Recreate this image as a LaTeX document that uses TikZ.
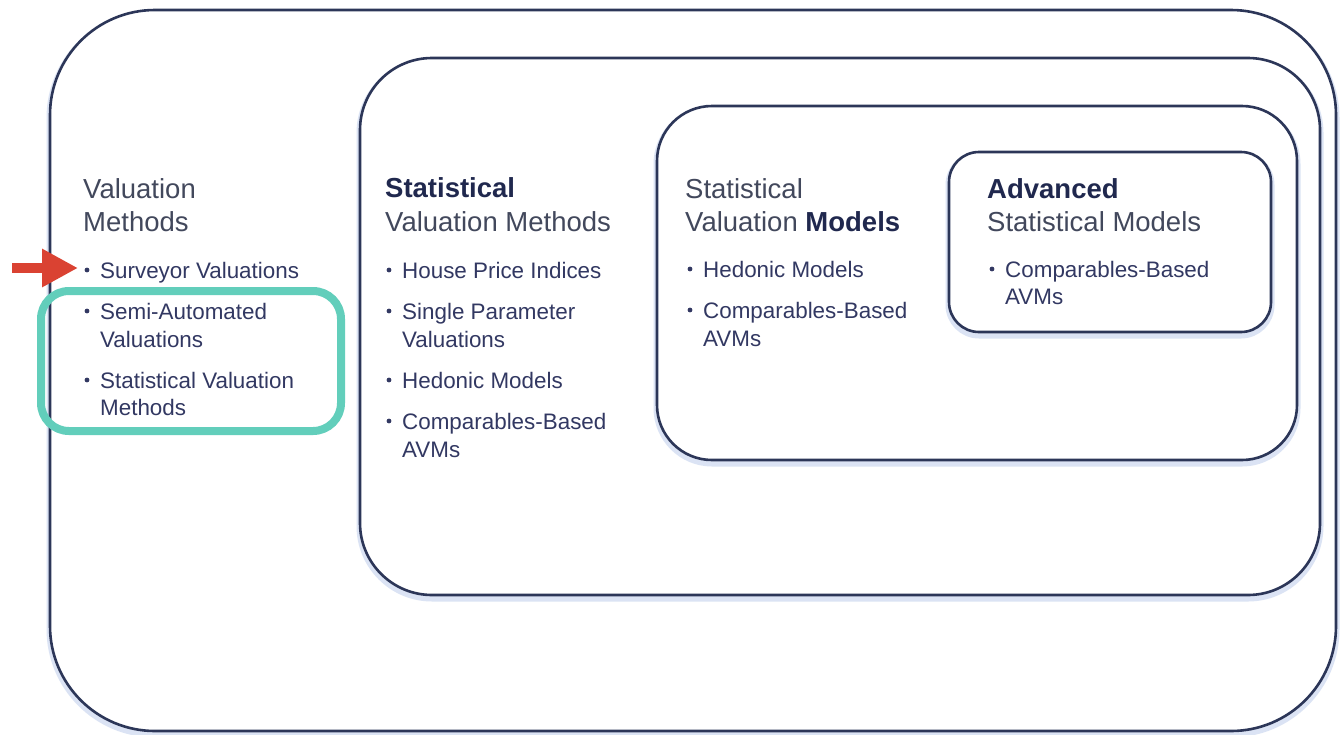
\documentclass[tikz,border=0pt]{standalone}
\usepackage{fontspec}
\setmainfont{Liberation Sans}
\usetikzlibrary{arrows.meta}
\definecolor{boxline}{RGB}{44,54,88}
\definecolor{shadowc}{RGB}{190,205,235}
\definecolor{headtxt}{RGB}{66,72,92}
\definecolor{boldtxt}{RGB}{32,40,78}
\definecolor{itemtxt}{RGB}{50,56,98}
\definecolor{tealc}{RGB}{98,206,187}
\definecolor{redc}{RGB}{218,66,50}
\begin{document}
\begin{tikzpicture}[x=1pt,y=-1pt,
  frame/.style={draw=boxline, line width=2.6pt},
  glow/.style={draw=shadowc, line width=7pt, opacity=0.55},
  head/.style={anchor=base west, inner sep=0pt, text=headtxt, font=\fontsize{27.5}{33}\selectfont},
  headb/.style={anchor=base west, inner sep=0pt, text=boldtxt, font=\fontsize{27.5}{33}\selectfont\bfseries},
  item/.style={anchor=base west, inner sep=0pt, text=itemtxt, font=\fontsize{22.4}{27}\selectfont},
  dot/.style={circle, fill=itemtxt, inner sep=0pt, minimum size=4.8pt},
  hl/.style={draw=tealc, line width=8pt, rounded corners=28pt},
  redarr/.style={draw=redc, line width=10pt, -{Triangle[length=36pt,width=36pt]}}
]
\useasboundingbox (0,0) rectangle (1340,734);
\fill[white] (0,0) rectangle (1340,734);

% frames (glow then line)
\draw[glow, rounded corners=105pt, shift={(0,3)}] (50,10) rectangle (1336,731);
\draw[frame, fill=white, rounded corners=105pt] (50,10) rectangle (1336,731);
\draw[glow, rounded corners=72pt, shift={(0,3)}] (360,58) rectangle (1320,595);
\draw[frame, fill=white, rounded corners=72pt] (360,58) rectangle (1320,595);
\draw[glow, rounded corners=55pt, shift={(0,3)}] (657,106) rectangle (1297,460);
\draw[frame, fill=white, rounded corners=55pt] (657,106) rectangle (1297,460);
\draw[glow, rounded corners=30pt, shift={(0,3)}] (949,152) rectangle (1271,332);
\draw[frame, fill=white, rounded corners=30pt] (949,152) rectangle (1271,332);

% column 1
\node[head] (h1a) at (83,198) {Valuation};
\node[head] (h1b) at (83,231) {Methods};
\node[dot] (d11) at (87,270) {};
\node[item] (t11) at (100,278) {Surveyor Valuations};
\node[dot] (d12) at (87,311) {};
\node[item] (t12a) at (100,319) {Semi-Automated};
\node[item] (t12b) at (100,347) {Valuations};
\node[dot] (d13) at (87,380) {};
\node[item] (t13a) at (100,388) {Statistical Valuation};
\node[item] (t13b) at (100,415) {Methods};

% column 2
\node[headb] (h2a) at (385,197) {Statistical};
\node[head] (h2b) at (385,231) {Valuation Methods};
\node[dot] (d21) at (389,270) {};
\node[item] (t21) at (402,278) {House Price Indices};
\node[dot] (d22) at (389,311) {};
\node[item] (t22a) at (402,319) {Single Parameter};
\node[item] (t22b) at (402,347) {Valuations};
\node[dot] (d23) at (389,380) {};
\node[item] (t23) at (402,388) {Hedonic Models};
\node[dot] (d24) at (389,421) {};
\node[item] (t24a) at (402,429) {Comparables-Based};
\node[item] (t24b) at (402,457) {AVMs};

% column 3
\node[head] (h3a) at (685,198) {Statistical};
\node[head] (h3b) at (685,231) {Valuation {\bfseries\color{boldtxt}Models}};
\node[dot] (d31) at (690,269) {};
\node[item] (t31) at (703,277) {Hedonic Models};
\node[dot] (d32) at (690,310) {};
\node[item] (t32a) at (703,318) {Comparables-Based};
\node[item] (t32b) at (703,346) {AVMs};

% column 4
\node[headb] (h4a) at (987,198) {Advanced};
\node[head] (h4b) at (987,231) {Statistical Models};
\node[dot] (d41) at (992,269) {};
\node[item] (t41a) at (1005,277) {Comparables-Based};
\node[item] (t41b) at (1005,304) {AVMs};

% highlight and arrow
\draw[hl] (41,291) rectangle (341,431);
\coordinate (arrtail) at (12,268);
\coordinate (arrtip) at (78,268);
\draw[redarr] (arrtail) -- (arrtip);
\end{tikzpicture}
\end{document}
